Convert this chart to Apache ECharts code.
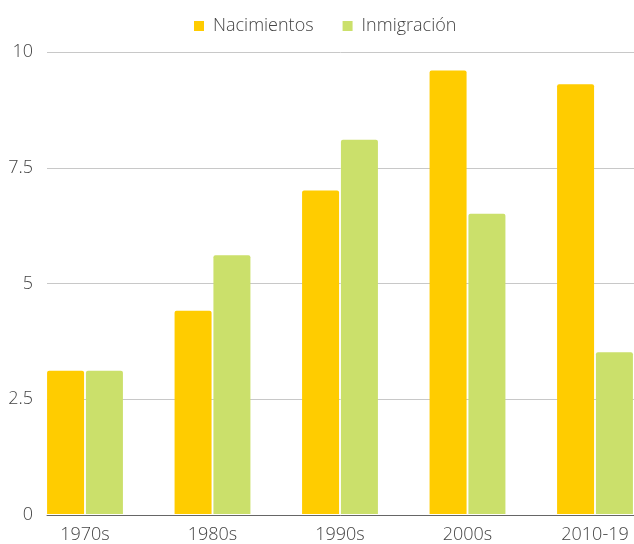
<!DOCTYPE html>
<html>
<head>
<meta charset="utf-8">
<script src="https://cdn.jsdelivr.net/npm/echarts@6/dist/echarts.min.js"></script>
<style>
  html, body { margin: 0; padding: 0; background: #fff; }
  #main { width: 634px; height: 544px; }
</style>
</head>
<body>
<div id="main"></div>
<script>
/* datos */
var decadas = ['1970s', '1980s', '1990s', '2000s', '2010-19'];
var nacimientos = [3.1, 4.4, 7.0, 9.6, 9.3];
var inmigracion = [3.1, 5.6, 8.1, 6.5, 3.5];
var seriesNames = ['Nacimientos', 'Inmigración'];

var textColor = '#444';
var fontFam = '"Open Sans", sans-serif';

var myChart = echarts.init(document.getElementById('main'));
var option = {
    animation: false,
    color: ['#ffcc00', '#cbe06b'],
    textStyle: { fontFamily: fontFam },
    legend: {
        left: 189,
        top: 12,
        itemWidth: 10,
        itemHeight: 10,
        itemGap: 29,
        icon: 'rect',
        data: seriesNames,
        textStyle: { color: textColor, fontSize: 18, fontFamily: fontFam, fontWeight: 300, padding: [0, 0, 0, 4] }
    },
    // grid 0: full width, gridlines + y labels; grid 1: category positions
    grid: [
        { left: 47, right: 0, top: 52, bottom: 29 },
        { left: 85, right: 39, top: 52, bottom: 29 }
    ],
    xAxis: [
        {
            type: 'value', gridIndex: 0, min: 0, max: 1,
            axisLine: { show: true, lineStyle: { color: '#666' } },
            axisTick: { show: false },
            axisLabel: { show: false },
            splitLine: { show: false }
        },
        {
            type: 'category', gridIndex: 1, data: decadas, boundaryGap: false,
            axisLine: { show: false },
            axisTick: { show: false },
            axisLabel: { color: textColor, fontSize: 18, fontFamily: fontFam, fontWeight: 300, margin: 12 }
        }
    ],
    yAxis: [
        {
            type: 'value', gridIndex: 0, min: 0, max: 10, interval: 2.5,
            axisLine: { show: false },
            axisTick: { show: false },
            axisLabel: { color: textColor, fontSize: 18, fontFamily: fontFam, fontWeight: 300, margin: 14 },
            splitLine: { lineStyle: { color: '#c8c8c8' } }
        },
        {
            type: 'value', gridIndex: 1, min: 0, max: 10, show: false,
            splitLine: { show: false }
        }
    ],
    series: [
        {
            name: seriesNames[0], type: 'bar', xAxisIndex: 1, yAxisIndex: 1,
            data: nacimientos, barWidth: 37, barGap: '5%', clip: false,
            itemStyle: { borderRadius: [2, 2, 0, 0] }
        },
        {
            name: seriesNames[1], type: 'bar', xAxisIndex: 1, yAxisIndex: 1,
            data: inmigracion, barWidth: 37, barGap: '5%', clip: false,
            itemStyle: { borderRadius: [2, 2, 0, 0] }
        }
    ]
};
myChart.setOption(option);
</script>
</body>
</html>
